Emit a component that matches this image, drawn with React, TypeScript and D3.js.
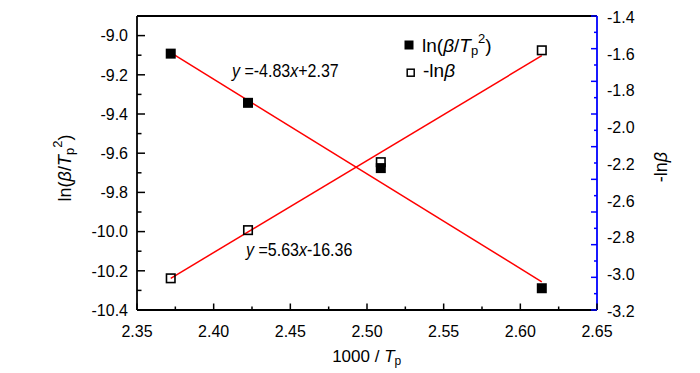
import React from 'react';
import * as d3 from 'd3';

// 1000/Tp for the four heating rates
const xValues = [2.372, 2.4224, 2.509, 2.614];
// ln(beta/Tp^2), left axis
const lnBetaTp2 = [-9.092, -9.343, -9.676, -10.289];
// -ln(beta), right axis
const negLnBeta = [-3.006, -2.711, -2.295, -1.61];

// fitted lines, end points
const fitX = [2.372, 2.614];
const fitLeft = [-9.087, -10.256];
const fitRight = [-3.006, -1.643];

const xTicks = [2.35, 2.4, 2.45, 2.5, 2.55, 2.6, 2.65];
const xTickLabels = ['2.35', '2.40', '2.45', '2.50', '2.55', '2.60', '2.65'];
const leftTicks = [-10.4, -10.2, -10.0, -9.8, -9.6, -9.4, -9.2, -9.0];
const leftTickLabels = ['-10.4', '-10.2', '-10.0', '-9.8', '-9.6', '-9.4', '-9.2', '-9.0'];
const rightTicks = [-1.4, -1.6, -1.8, -2.0, -2.2, -2.4, -2.6, -2.8, -3.0, -3.2];
// the source figure spreads these nine labels evenly down the axis (no -2.4), kept as drawn
const rightTickLabels = ['-1.4', '-1.6', '-1.8', '-2.0', '-2.2', '-2.6', '-2.8', '-3.0', '-3.2'];

const W = 700;
const H = 373;
const left = 137;
const right = 597;
const top = 16;
const bottom = 310;
const font = '"Liberation Sans", Arial, sans-serif';

export default function App() {
  const x = d3.scaleLinear().domain([2.35, 2.65]).range([left, right]);
  const yL = d3.scaleLinear().domain([-10.4, -8.9]).range([bottom, top]);
  const yR = d3.scaleLinear().domain([-3.2, -1.4]).range([bottom, top]);
  const yRLabel = d3.scalePoint<string>().domain(rightTickLabels).range([top + 1, bottom + 1]);

  const xMinor = d3.range(2.375, 2.65, 0.05);
  const leftMinor = d3.range(-10.3, -8.95, 0.2);
  const rightMinor = d3.range(-3.1, -1.45, 0.2);

  // fitted rows kept as [x, y] pairs for the line generator
  const lineA = fitX.map((v, i) => [v, fitLeft[i]] as [number, number]);
  const lineB = fitX.map((v, i) => [v, fitRight[i]] as [number, number]);
  const pathA = d3.line<[number, number]>().x(d => x(d[0])).y(d => yL(d[1]))(lineA) || '';
  const pathB = d3.line<[number, number]>().x(d => x(d[0])).y(d => yR(d[1]))(lineB) || '';

  const sq = 10;
  const osq = 8.5;

  return (
    <svg width={W} height={H} style={{ position: 'absolute', left: 0, top: 0, background: '#fff' }} fontFamily={font}>
      {/* frame */}
      <line x1={left} x2={right} y1={top} y2={top} stroke="#000" strokeWidth={1.8} />
      <line x1={left} x2={right} y1={bottom} y2={bottom} stroke="#000" strokeWidth={1.8} />
      <line x1={left} x2={left} y1={top} y2={bottom} stroke="#000" strokeWidth={1.8} />
      <line x1={right} x2={right} y1={top} y2={bottom} stroke="#0000ff" strokeWidth={1.8} />

      {/* bottom axis ticks */}
      {xTicks.map((t, i) => (
        <g key={'xt' + i}>
          <line x1={x(t)} x2={x(t)} y1={bottom} y2={bottom - 6.5} stroke="#000" strokeWidth={1.5} />
          <text x={x(t)} y={337} fontSize={16} textAnchor="middle">{xTickLabels[i]}</text>
        </g>
      ))}
      {xMinor.map((t, i) => (
        <line key={'xm' + i} x1={x(t)} x2={x(t)} y1={bottom} y2={bottom - 3.5} stroke="#000" strokeWidth={1.5} />
      ))}

      {/* left axis ticks */}
      {leftTicks.map((t, i) => (
        <g key={'lt' + i}>
          <line x1={left} x2={left + 8} y1={yL(t)} y2={yL(t)} stroke="#000" strokeWidth={1.5} />
          <text x={128} y={yL(t)} dy="0.36em" fontSize={16} textAnchor="end">{leftTickLabels[i]}</text>
        </g>
      ))}
      {leftMinor.map((t, i) => (
        <line key={'lm' + i} x1={left} x2={left + 4.5} y1={yL(t)} y2={yL(t)} stroke="#000" strokeWidth={1.5} />
      ))}

      {/* right axis ticks */}
      {rightTicks.map((t, i) => (
        <line key={'rt' + i} x1={right} x2={right - 6} y1={yR(t)} y2={yR(t)} stroke="#0000ff" strokeWidth={1.5} />
      ))}
      {rightMinor.map((t, i) => (
        <line key={'rm' + i} x1={right} x2={right - 3} y1={yR(t)} y2={yR(t)} stroke="#0000ff" strokeWidth={1.5} />
      ))}
      {rightTickLabels.map((l, i) => (
        <text key={'rl' + i} x={607} y={yRLabel(l)} dy="0.36em" fontSize={16} textAnchor="start">{l}</text>
      ))}

      {/* axis titles */}
      <text x={366.7} y={362} fontSize={17} textAnchor="middle">
        1000 / <tspan fontStyle="italic">T</tspan><tspan fontSize={12} dy={3}>p</tspan>
      </text>
      <text transform="translate(71,168) rotate(-90)" fontSize={18} textAnchor="middle">
        ln(<tspan fontStyle="italic">β</tspan>/<tspan fontStyle="italic">T</tspan>
        <tspan fontSize={13} dy={3}>p</tspan><tspan fontSize={13} dy={-12}>2</tspan>
        <tspan dy={9}>)</tspan>
      </text>
      <text transform="translate(667,167) rotate(-90)" fontSize={18} textAnchor="middle">
        -ln<tspan fontStyle="italic">β</tspan>
      </text>

      {/* fitted lines */}
      <path d={pathA} fill="none" stroke="#ff0000" strokeWidth={1.5} />
      <path d={pathB} fill="none" stroke="#ff0000" strokeWidth={1.5} />

      {/* points */}
      {xValues.map((v, i) => (
        <rect key={'f' + i} x={x(v) - sq / 2} y={yL(lnBetaTp2[i]) - sq / 2} width={sq} height={sq} fill="#000" />
      ))}
      {xValues.map((v, i) => (
        <rect key={'o' + i} x={x(v) - osq / 2} y={yR(negLnBeta[i]) - osq / 2} width={osq} height={osq} fill="none" stroke="#000" strokeWidth={1.6} />
      ))}

      {/* fit equations */}
      <text transform="translate(232,77) scale(0.89,1)" fontSize={18}>
        <tspan fontStyle="italic">y</tspan> =-4.83<tspan fontStyle="italic">x</tspan>+2.37
      </text>
      <text transform="translate(246,256) scale(0.89,1)" fontSize={18}>
        <tspan fontStyle="italic">y</tspan> =5.63<tspan fontStyle="italic">x</tspan>-16.36
      </text>

      {/* legend */}
      <rect x={409 - 4.5} y={45 - 4.5} width={9} height={9} fill="#000" />
      <text x={422} y={52} fontSize={19}>
        ln(<tspan fontStyle="italic">β</tspan>/<tspan fontStyle="italic">T</tspan>
        <tspan fontSize={13} dy={3}>p</tspan><tspan fontSize={13} dy={-12}>2</tspan>
        <tspan dy={9}>)</tspan>
      </text>
      <rect x={410.7 - 3.5} y={72.7 - 3.5} width={7} height={7} fill="none" stroke="#000" strokeWidth={1.5} />
      <text x={423} y={77} fontSize={19}>
        -ln<tspan fontStyle="italic">β</tspan>
      </text>
    </svg>
  );
}
